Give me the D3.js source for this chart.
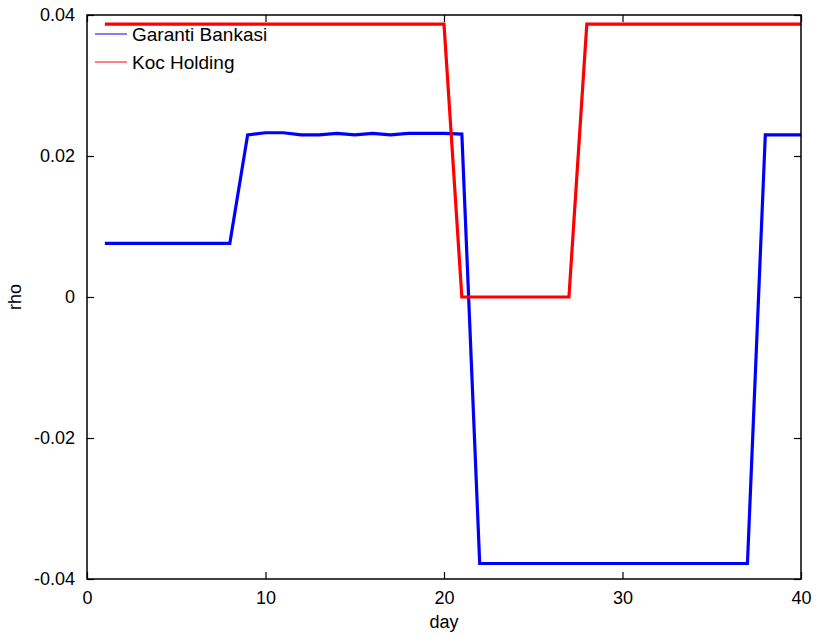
<!DOCTYPE html>
<html>
<head>
<meta charset="utf-8">
<script src="https://cdn.jsdelivr.net/npm/d3@7"></script>
<style>
  body { margin: 0; background: #fff; }
  text { font-family: "Liberation Sans", Arial, Helvetica, sans-serif; fill: #000; }
</style>
</head>
<body>
<script>
(function(){

  //chart data
  var days = d3.range(1, 41); //day 1..40
  var garanti = [0.0076, 0.0076, 0.0076, 0.0076, 0.0076, 0.0076, 0.0076, 0.0076,
                 0.0230, 0.0233, 0.0233, 0.0230, 0.0230, 0.0232, 0.0230, 0.0232,
                 0.0230, 0.0232, 0.0232, 0.0232, 0.0231,
                 -0.0378, -0.0378, -0.0378, -0.0378, -0.0378, -0.0378, -0.0378, -0.0378,
                 -0.0378, -0.0378, -0.0378, -0.0378, -0.0378, -0.0378, -0.0378, -0.0378,
                 0.0230, 0.0230, 0.0230];
  var koc = [0.0387, 0.0387, 0.0387, 0.0387, 0.0387, 0.0387, 0.0387, 0.0387, 0.0387, 0.0387,
             0.0387, 0.0387, 0.0387, 0.0387, 0.0387, 0.0387, 0.0387, 0.0387, 0.0387, 0.0387,
             0, 0, 0, 0, 0, 0, 0,
             0.0387, 0.0387, 0.0387, 0.0387, 0.0387, 0.0387, 0.0387, 0.0387, 0.0387, 0.0387,
             0.0387, 0.0387, 0.0387];
  var seriesNames = ["Garanti Bankasi", "Koc Holding"];
  var seriesColors = ["#0000ff", "#ff0000"];
  var xTicks = [0, 10, 20, 30, 40];
  var yTicks = [-0.04, -0.02, 0, 0.02, 0.04];

  var width = 816, height = 638;
  var left = 87, right = 801, top = 15, bottom = 579;

  var svg = d3.select("body")
    .append("svg")
    .attr("width", width)
    .attr("height", height);

  var x = d3.scaleLinear().domain([0, 40]).range([left, right]);
  var y = d3.scaleLinear().domain([-0.04, 0.04]).range([bottom, top]);

  //plain hyphen for negatives, like the original
  var fmtY = function(d){ return d === 0 ? "0" : d.toFixed(2); };

  //axes with ticks pointing inward, mirrored on top and right
  var tickLen = 7;
  svg.append("g")
    .attr("transform", "translate(0," + bottom + ")")
    .call(d3.axisBottom(x).tickValues(xTicks).tickSizeInner(-tickLen).tickSizeOuter(0).tickPadding(12))
    .call(styleAxis);
  svg.append("g")
    .attr("transform", "translate(0," + top + ")")
    .call(d3.axisTop(x).tickValues(xTicks).tickSizeInner(-tickLen).tickSizeOuter(0).tickFormat(""))
    .call(styleAxis);
  svg.append("g")
    .attr("transform", "translate(" + left + ",0)")
    .call(d3.axisLeft(y).tickValues(yTicks).tickSizeInner(-tickLen).tickSizeOuter(0).tickPadding(12).tickFormat(fmtY))
    .call(styleAxis);
  svg.append("g")
    .attr("transform", "translate(" + right + ",0)")
    .call(d3.axisRight(y).tickValues(yTicks).tickSizeInner(-tickLen).tickSizeOuter(0).tickFormat(""))
    .call(styleAxis);

  function styleAxis(g){
    g.select(".domain").remove();
    g.selectAll(".tick line").attr("stroke", "#000").attr("stroke-width", 1.2);
    g.selectAll(".tick text").style("font-size", "18px").attr("fill", "#000");
  }

  //lines
  var line = d3.line()
    .x(function(d){ return x(d[0]); })
    .y(function(d){ return y(d[1]); });

  [garanti, koc].forEach(function(vals, i){
    svg.append("path")
      .datum(days.map(function(d, j){ return [d, vals[j]]; }))
      .attr("fill", "none")
      .attr("stroke", seriesColors[i])
      .attr("stroke-width", 3.2)
      .attr("stroke-linejoin", "miter")
      .attr("d", line);
  });

  //frame
  svg.append("rect")
    .attr("x", left)
    .attr("y", top)
    .attr("width", right - left)
    .attr("height", bottom - top)
    .attr("fill", "none")
    .attr("stroke", "#000")
    .attr("stroke-width", 1.5);

  //legend
  var legend = svg.selectAll(".legend")
    .data(seriesNames)
    .enter()
    .append("g")
    .attr("transform", function(d, i){ return "translate(95," + (34 + i * 28) + ")"; });
  legend.append("line")
    .attr("x1", 0).attr("x2", 32)
    .attr("stroke", function(d, i){ return seriesColors[i]; })
    .attr("stroke-width", 1);
  legend.append("text")
    .attr("x", 37)
    .attr("dy", "0.35em")
    .style("font-size", "19px")
    .text(function(d){ return d; });

  //axis titles
  svg.append("text")
    .attr("x", (left + right) / 2)
    .attr("y", 628)
    .attr("text-anchor", "middle")
    .style("font-size", "18px")
    .text("day");
  svg.append("text")
    .attr("transform", "translate(21," + ((top + bottom) / 2) + ") rotate(-90)")
    .attr("text-anchor", "middle")
    .style("font-size", "18px")
    .text("rho");
})();
</script>
</body>
</html>
